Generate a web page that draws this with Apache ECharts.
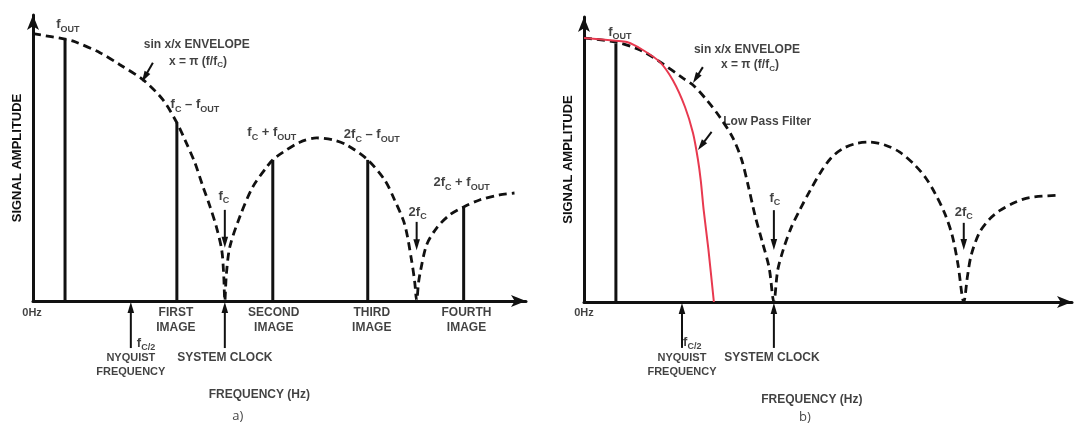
<!DOCTYPE html>
<html>
<head>
<meta charset="utf-8">
<script src="https://cdn.jsdelivr.net/npm/echarts@6/dist/echarts.min.js"></script>
<style>
html,body{margin:0;padding:0;background:#fff;}
#chart{width:1081px;height:423px;}
</style>
</head>
<body>
<div id="chart"></div>
<script>
// ---------- DATA (x in units of fC, y relative amplitude) ----------
// Panel a
const envelopeA = [[0,1.0],[0.167,0.98],[0.219,0.97],[0.349,0.929],[0.453,0.884],[0.573,0.828],[0.677,0.753],[0.75,0.667],[0.792,0.603],[0.844,0.517],[0.885,0.43],[0.922,0.355],[0.958,0.272],[0.984,0.19],[0.994,0.1],[1.0,0],[1.008,0.1],[1.026,0.202],[1.078,0.315],[1.146,0.427],[1.219,0.502],[1.25,0.528],[1.302,0.556],[1.391,0.594],[1.479,0.61],[1.563,0.603],[1.635,0.584],[1.745,0.528],[1.833,0.453],[1.885,0.378],[1.938,0.285],[1.974,0.15],[1.99,0.07],[2.0,0],[2.01,0.07],[2.021,0.116],[2.052,0.21],[2.104,0.273],[2.172,0.322],[2.245,0.352],[2.328,0.378],[2.432,0.397],[2.51,0.404]];
const spectralA = [[0.167,0.98],[0.75,0.667],[1.25,0.528],[1.745,0.528],[2.245,0.352]];
const arrowsA = [[0.625,0.891,0.568,0.82],[1.0,0.341,1.0,0.199],[2.0,0.296,2.0,0.19],[0.51,-0.176,0.51,-0.004],[1.0,-0.176,1.0,-0.004]];
const labelsA = [
  [0.182,1.034,'{m|f}{s|OUT}'],
  [0.854,0.959,'{t|sin x/x ENVELOPE}'],
  [0.86,0.895,'{t|x = π (f/f}{ts|C}{t|)}'],
  [0.844,0.734,'{m|f}{s|C}{m| – f}{s|OUT}'],
  [0.995,0.393,'{m|f}{s|C}'],
  [1.245,0.629,'{m|f}{s|C}{m| + f}{s|OUT}'],
  [1.766,0.622,'{m|2f}{s|C}{m| – f}{s|OUT}'],
  [2.005,0.333,'{m|2f}{s|C}'],
  [2.234,0.442,'{m|2f}{s|C}{m| + f}{s|OUT}'],
  [-0.005,-0.045,'{n|0Hz}'],
  [0.745,-0.073,'{t|FIRST}\n{t|IMAGE}'],
  [1.255,-0.073,'{t|SECOND}\n{t|IMAGE}'],
  [1.766,-0.073,'{t|THIRD}\n{t|IMAGE}'],
  [2.26,-0.073,'{t|FOURTH}\n{t|IMAGE}'],
  [0.589,-0.157,'{m|f}{s|C/2}'],
  [0.51,-0.24,'{n|NYQUIST}\n{n|FREQUENCY}'],
  [1.0,-0.213,'{t|SYSTEM CLOCK}'],
  [1.18,-0.352,'{t|FREQUENCY (Hz)}'],
  [1.068,-0.43,'{ab|a)}']
];
// Panel b
const envelopeB = [[0,1.0],[0.168,0.985],[0.295,0.955],[0.4,0.91],[0.521,0.848],[0.574,0.822],[0.647,0.765],[0.716,0.7],[0.784,0.622],[0.83,0.54],[0.865,0.44],[0.9,0.33],[0.94,0.225],[0.975,0.13],[1.0,0],[1.02,0.12],[1.05,0.2],[1.09,0.28],[1.137,0.35],[1.189,0.42],[1.245,0.49],[1.3,0.545],[1.36,0.58],[1.43,0.6],[1.505,0.606],[1.584,0.595],[1.663,0.568],[1.742,0.519],[1.8,0.47],[1.85,0.41],[1.9,0.335],[1.94,0.25],[1.97,0.14],[2.0,0],[2.02,0.1],[2.04,0.18],[2.084,0.265],[2.137,0.315],[2.189,0.346],[2.268,0.377],[2.347,0.396],[2.505,0.405]];
const filterB = [[0,1.0],[0.168,0.99],[0.226,0.985],[0.31,0.955],[0.4,0.909],[0.468,0.84],[0.532,0.739],[0.574,0.64],[0.6,0.54],[0.615,0.46],[0.63,0.35],[0.655,0.2],[0.684,0]];
const spectralB = [[0.168,0.98]];
const arrowsB = [[0.626,0.89,0.574,0.83],[0.672,0.645,0.6,0.576],[1.0,0.348,1.0,0.197],[2.0,0.3,2.0,0.197],[0.516,-0.174,0.516,-0.004],[1.0,-0.174,1.0,-0.004]];
const labelsB = [
  [0.189,1.023,'{m|f}{s|OUT}'],
  [0.858,0.955,'{t|sin x/x ENVELOPE}'],
  [0.874,0.898,'{t|x = π (f/f}{ts|C}{t|)}'],
  [0.965,0.685,'{t|Low Pass Filter}'],
  [1.005,0.394,'{m|f}{s|C}'],
  [2.0,0.34,'{m|2f}{s|C}'],
  [0.0,-0.042,'{n|0Hz}'],
  [0.57,-0.152,'{m|f}{s|C/2}'],
  [0.516,-0.239,'{n|NYQUIST}\n{n|FREQUENCY}'],
  [0.99,-0.212,'{t|SYSTEM CLOCK}'],
  [1.2,-0.37,'{t|FREQUENCY (Hz)}'],
  [1.163,-0.436,'{ab|b)}']
];
const yAxisTitle = 'SIGNAL AMPLITUDE';

// ---------- STYLE / OPTION ----------
const FONT = '"Liberation Sans", Arial, sans-serif';
const INK = '#111';
const RICH = {
  t:{fontFamily:FONT,fontWeight:'bold',fontSize:12,color:INK,lineHeight:15},
  ts:{fontFamily:FONT,fontWeight:'bold',fontSize:8,color:INK,lineHeight:9,verticalAlign:'bottom'},
  n:{fontFamily:FONT,fontWeight:'bold',fontSize:11,color:INK,lineHeight:14},
  m:{fontFamily:FONT,fontWeight:'bold',fontSize:13,color:INK,lineHeight:18,verticalAlign:'middle'},
  s:{fontFamily:FONT,fontWeight:'bold',fontSize:9,color:INK,lineHeight:10,verticalAlign:'bottom'},
  ab:{fontFamily:'"Open Sans", "DejaVu Sans", sans-serif',fontSize:13,color:INK,lineHeight:16}
};

function axisBase(max){
  return {type:'value',min:0,max:max,
    axisLine:{show:true,onZero:true,symbol:['none','arrow'],symbolSize:[9,15],lineStyle:{color:INK,width:3}},
    axisTick:{show:false},axisLabel:{show:false},splitLine:{show:false}};
}
function yAxisFor(idx,max){
  const a = axisBase(max);
  a.gridIndex = idx;
  a.name = yAxisTitle; a.nameLocation='middle'; a.nameRotate=90; a.nameGap=9;
  a.nameTextStyle = {fontFamily:FONT,fontWeight:'bold',fontSize:13,color:INK};
  return a;
}
function xAxisFor(idx,max){ const a = axisBase(max); a.gridIndex = idx; return a; }

function renderArrow(params, api){
  const p1 = api.coord([api.value(0), api.value(1)]);
  const p2 = api.coord([api.value(2), api.value(3)]);
  const dx=p2[0]-p1[0], dy=p2[1]-p1[1], L=Math.hypot(dx,dy)||1;
  const ux=dx/L, uy=dy/L, hl=11, hw=3.3, nx=-uy, ny=ux;
  const b=[p2[0]-ux*hl, p2[1]-uy*hl];
  return {type:'group',children:[
    {type:'line',shape:{x1:p1[0],y1:p1[1],x2:b[0]+ux*2,y2:b[1]+uy*2},style:{stroke:INK,lineWidth:2}},
    {type:'polygon',shape:{points:[p2,[b[0]+nx*hw,b[1]+ny*hw],[b[0]-nx*hw,b[1]-ny*hw]]},style:{fill:INK}}
  ]};
}
function renderSpike(params, api){
  const p0 = api.coord([api.value(0), 0]);
  const p1 = api.coord([api.value(0), api.value(1)]);
  return {type:'line',shape:{x1:p0[0],y1:p0[1],x2:p1[0],y2:p1[1]},style:{stroke:INK,lineWidth:3}};
}
function envSeries(idx,data){
  return {type:'line',xAxisIndex:idx,yAxisIndex:idx,data:data,showSymbol:false,smooth:0.3,silent:true,
    lineStyle:{color:INK,width:2.8,type:[8,5]},z:3};
}
function spikeSeries(idx,data){
  return {type:'custom',xAxisIndex:idx,yAxisIndex:idx,data:data,renderItem:renderSpike,silent:true,clip:false,z:4};
}
function arrowSeries(idx,data){
  return {type:'custom',xAxisIndex:idx,yAxisIndex:idx,data:data,renderItem:renderArrow,silent:true,clip:false,z:6};
}
function labelSeries(idx,data){
  return {type:'scatter',xAxisIndex:idx,yAxisIndex:idx,clip:false,silent:true,symbolSize:1,
    itemStyle:{color:'rgba(0,0,0,0)'},
    data:data.map(d=>({value:[d[0],d[1]],name:d[2]})),
    label:{show:true,position:'inside',align:'center',verticalAlign:'middle',formatter:p=>p.name,rich:RICH,color:INK},
    z:7};
}

const chart = echarts.init(document.getElementById('chart'),null,{renderer:'canvas'});
chart.setOption({
  animation:false,
  backgroundColor:'#fff',
  grid:[
    {left:33,top:15,width:493,height:286},
    {left:584,top:17,width:488,height:285}
  ],
  xAxis:[xAxisFor(0,2.57),xAxisFor(1,2.57)],
  yAxis:[yAxisFor(0,1.07),yAxisFor(1,1.08)],
  series:[
    envSeries(0,envelopeA),
    spikeSeries(0,spectralA),
    arrowSeries(0,arrowsA),
    labelSeries(0,labelsA),
    envSeries(1,envelopeB),
    {type:'line',xAxisIndex:1,yAxisIndex:1,data:filterB,showSymbol:false,smooth:0.3,silent:true,
      lineStyle:{color:'#e8394f',width:2},z:5},
    spikeSeries(1,spectralB),
    arrowSeries(1,arrowsB),
    labelSeries(1,labelsB)
  ]
});
</script>
</body>
</html>
